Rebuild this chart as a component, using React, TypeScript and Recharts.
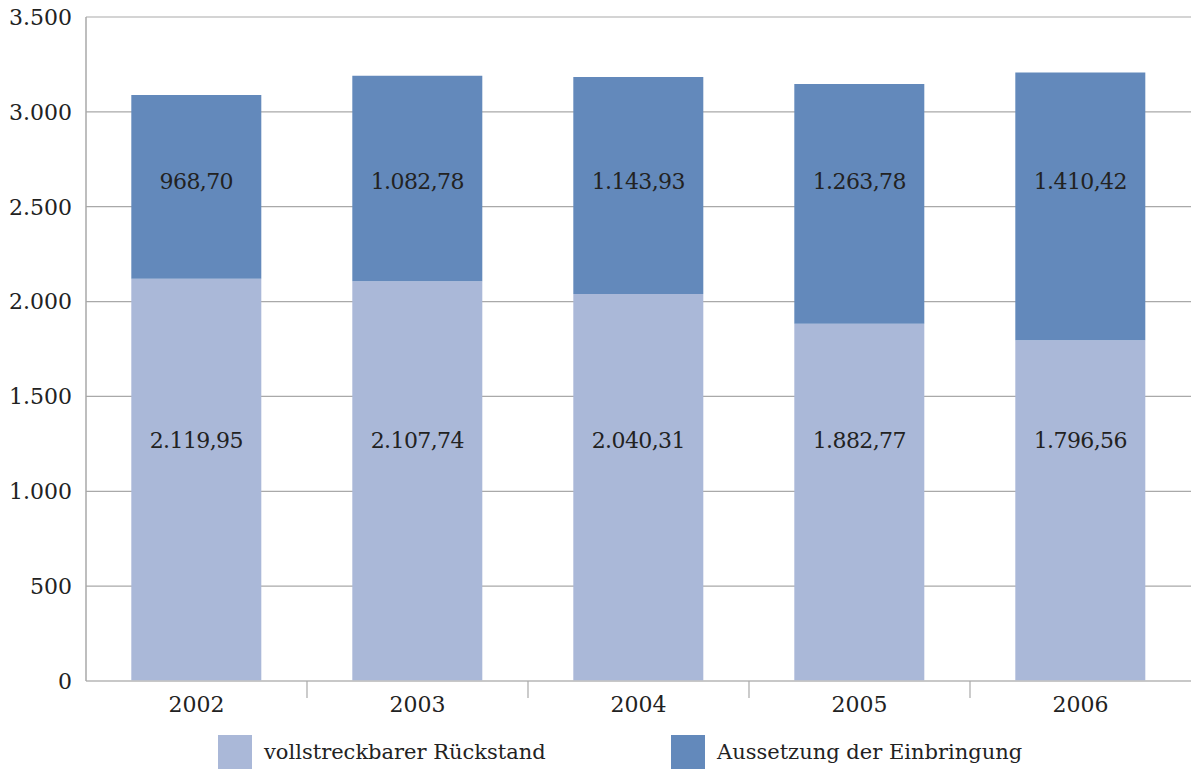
import React from 'react';
import { BarChart, Bar, XAxis, YAxis, CartesianGrid, Legend, LabelList } from 'recharts';

const years = ['2002', '2003', '2004', '2005', '2006'];
const rueckstand = [2119.95, 2107.74, 2040.31, 1882.77, 1796.56];
const aussetzung = [968.7, 1082.78, 1143.93, 1263.78, 1410.42];
const yTicks = [0, 500, 1000, 1500, 2000, 2500, 3000, 3500];

const LIGHT = '#aab8d8';
const DARK = '#6389bb';
const GRID = '#a9a9a9';
const TEXT = '#222222';
const FONT = '"DejaVu Serif", "Liberation Serif", serif';

// labels sit at fixed heights inside each stack segment
const LOWER_LABEL_AT = 1270;
const UPPER_LABEL_AT = 2635;

const data = years.map((year, i) => ({
  year,
  rueckstand: rueckstand[i],
  aussetzung: aussetzung[i],
}));

// German number format: 2.119,95
const fmt = (v: number, digits = 2) => {
  const [int, dec] = v.toFixed(digits).split('.');
  const grouped = int.replace(/\B(?=(\d{3})+(?!\d))/g, '.');
  return dec ? `${grouped},${dec}` : grouped;
};

const makeLabel = (target: number, upper: boolean) => (props: any) => {
  const { x, y, width, height, index } = props;
  const lower = upper ? rueckstand[index] : 0;
  const value = upper ? aussetzung[index] : rueckstand[index];
  const ppu = height / value;
  const bottom = y + height;
  const ty = bottom - (target - lower) * ppu;
  return (
    <text
      x={x + width / 2}
      y={ty}
      textAnchor="middle"
      dominantBaseline="central"
      fill={TEXT}
      fontSize={22}
      fontFamily={FONT}
      letterSpacing={-0.6}
    >
      {fmt(value)}
    </text>
  );
};

const TICK_MARGIN = 15;

// year label plus a separator tick on the left edge of each band
const YearTick = (props: any) => {
  const { x, y, payload, index } = props;
  const half = payload?.offset ?? 0;
  const axisY = y - TICK_MARGIN;
  return (
    <g>
      {index > 0 && (
        <line x1={x - half} x2={x - half} y1={axisY} y2={axisY + 17} stroke={GRID} strokeWidth={1.2} />
      )}
      <text x={x} y={y} dy="0.71em" textAnchor="middle" fill={TEXT} fontSize={22} fontFamily={FONT}>
        {payload.value}
      </text>
    </g>
  );
};

const LegendContent = () => {
  const items = [
    { name: 'vollstreckbarer Rückstand', color: LIGHT },
    { name: 'Aussetzung der Einbringung', color: DARK },
  ];
  return (
    <div style={{ display: 'flex', height: 48, alignItems: 'flex-end', paddingLeft: 218 }}>
      {items.map((it) => (
        <div key={it.name} style={{ display: 'flex', alignItems: 'center', width: 453 }}>
          <div style={{ width: 34, height: 34, background: it.color, marginRight: 12 }} />
          <span style={{ fontFamily: FONT, fontSize: 21, color: TEXT }}>{it.name}</span>
        </div>
      ))}
    </div>
  );
};

const App: React.FC = () => {
  return (
    <div style={{ position: 'absolute', left: 0, top: 0, background: '#fff' }}>
      <BarChart
        width={1191}
        height={769}
        data={data}
        margin={{ top: 17, right: 0, left: 0, bottom: 0 }}
        barCategoryGap="20.5%"
      >
        <CartesianGrid horizontal vertical={false} stroke={GRID} strokeWidth={1.2} />
        <XAxis
          dataKey="year"
          height={40}
          tickLine={false}
          axisLine={{ stroke: '#c4c4c4', strokeWidth: 1.5 }}
          tickSize={0}
          tickMargin={TICK_MARGIN}
          interval={0}
          tick={<YearTick />}
        />
        <YAxis
          width={86}
          domain={[0, 3500]}
          ticks={yTicks}
          tickFormatter={(v: number) => fmt(v, 0)}
          tickLine={false}
          tickSize={0}
          tickMargin={14}
          axisLine={{ stroke: GRID, strokeWidth: 1.5 }}
          tick={{ fill: TEXT, fontSize: 22, fontFamily: FONT }}
        />
        <Legend verticalAlign="bottom" height={48} content={<LegendContent />} />
        <Bar dataKey="rueckstand" stackId="a" fill={LIGHT} isAnimationActive={false}>
          <LabelList dataKey="rueckstand" content={makeLabel(LOWER_LABEL_AT, false)} />
        </Bar>
        <Bar dataKey="aussetzung" stackId="a" fill={DARK} isAnimationActive={false}>
          <LabelList dataKey="aussetzung" content={makeLabel(UPPER_LABEL_AT, true)} />
        </Bar>
      </BarChart>
    </div>
  );
};

export default App;
